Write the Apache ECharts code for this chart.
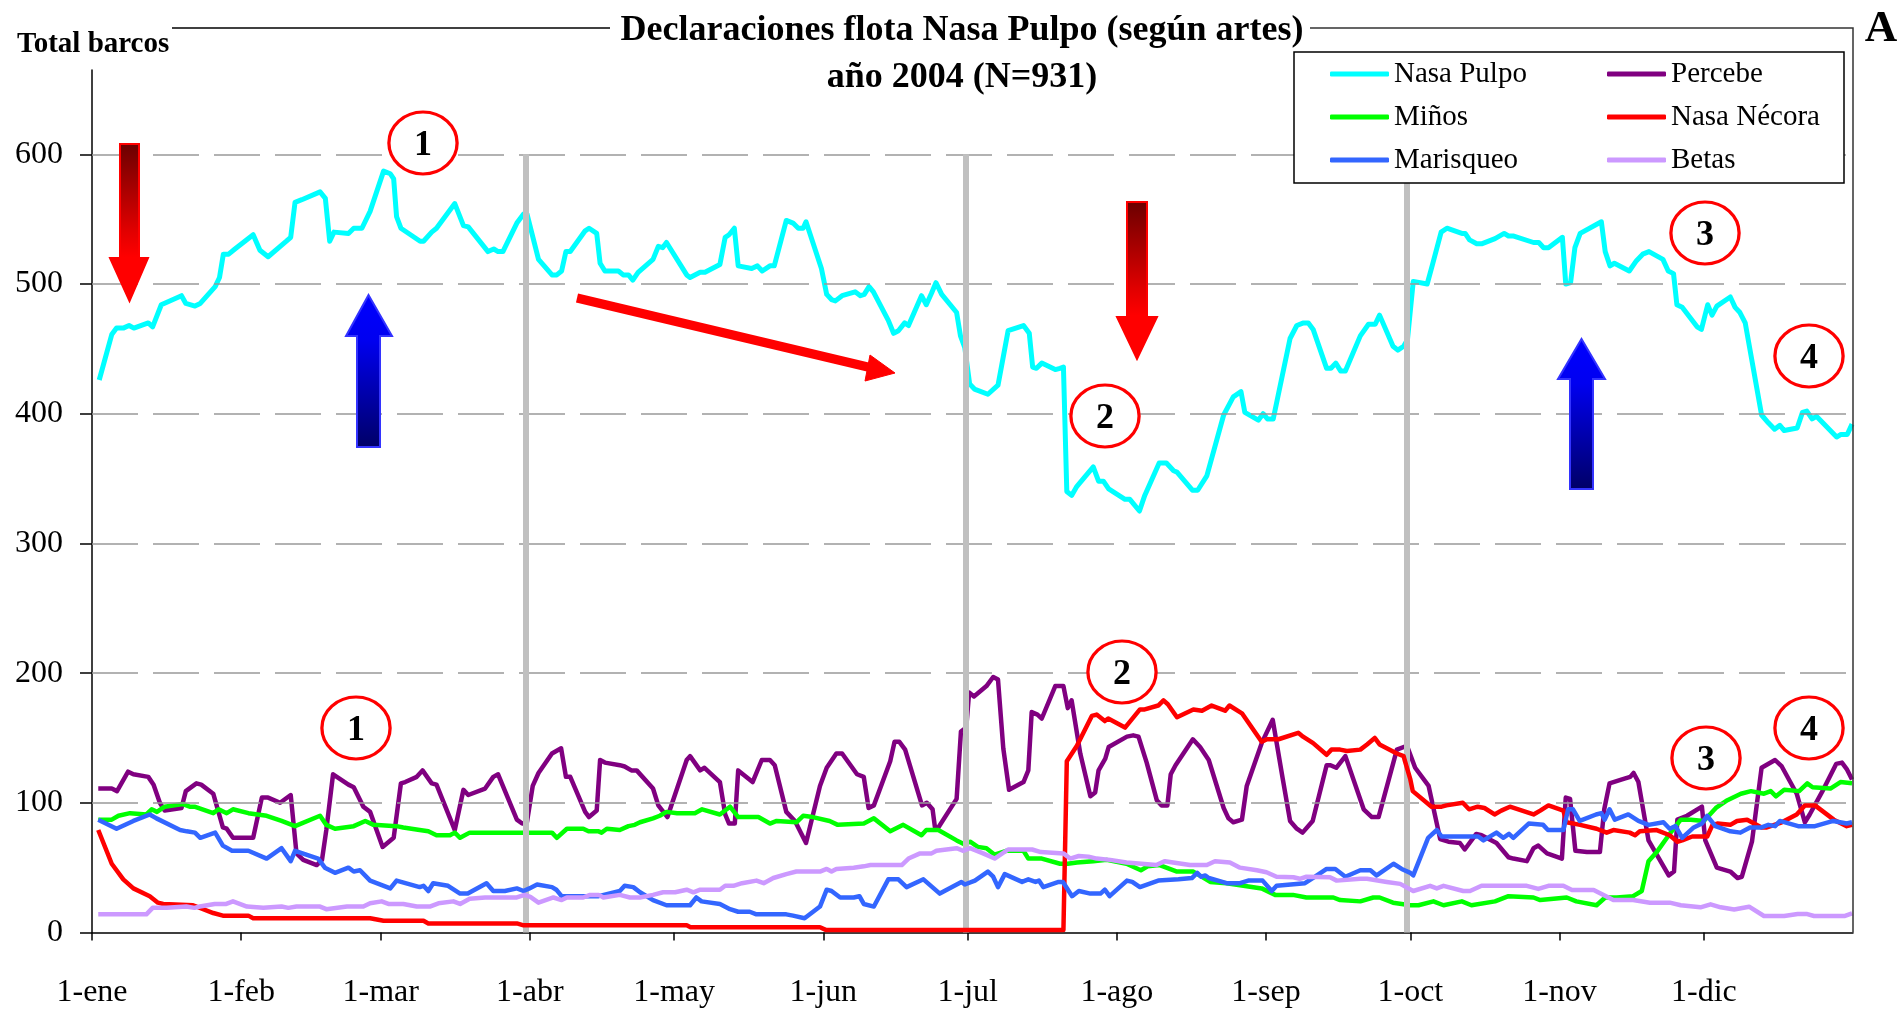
<!DOCTYPE html>
<html>
<head>
<meta charset="utf-8">
<title>Declaraciones flota Nasa Pulpo 2004</title>
<script src="https://cdn.jsdelivr.net/npm/echarts@6/dist/echarts.min.js"></script>
<style>
  html, body { margin: 0; padding: 0; background: #fff; }
  #chart { width: 1901px; height: 1010px; }
</style>
</head>
<body>
<div id="chart"></div>
<script>
"use strict";

// day of year (0 = 1-ene) and tick labels
const MONTH_DAYS = [0, 31, 60, 91, 121, 152, 182, 213, 244, 274, 305, 335];
const MONTH_LABELS = ["1-ene", "1-feb", "1-mar", "1-abr", "1-may", "1-jun",
  "1-jul", "1-ago", "1-sep", "1-oct", "1-nov", "1-dic"];
const Y_TICKS = [0, 100, 200, 300, 400, 500, 600];
const GREY_LINE_DAYS = [90.2, 181.7, 273.3];

// [day, boats]
const nasaPulpo = [
  [1.5, 426], [4.1, 461], [5.1, 466], [6.5, 466], [7.7, 468], [8.7, 466], [11.7, 470], [12.6, 467],
  [14.4, 484], [18.6, 491], [19.5, 485], [21.4, 483], [22.5, 485], [25.6, 498], [26.5, 505], [27.3, 523],
  [28.4, 523], [29.7, 527], [33.5, 538], [34.9, 526], [36.6, 521], [40.4, 533], [41.3, 536], [42.2, 563],
  [43.6, 565], [47.4, 571], [48.5, 566], [49.4, 533], [50.3, 540], [53.3, 539], [54.4, 543], [56.1, 543],
  [57.8, 556], [60.6, 587], [62.0, 585], [62.7, 581], [63.3, 552], [64.2, 543], [68.2, 533], [68.9, 533],
  [70.6, 540], [71.6, 543], [75.4, 562], [77.2, 545], [78.2, 544], [82.3, 525], [83.5, 527], [84.4, 525],
  [85.4, 525], [88.3, 547], [89.7, 554], [90.4, 554], [92.8, 519], [95.6, 507], [96.6, 507], [97.6, 510],
  [98.5, 525], [99.4, 525], [102.5, 541], [103.3, 543], [104.9, 539], [105.6, 516], [106.6, 510], [109.4, 510],
  [110.4, 507], [111.5, 507], [112.4, 503], [113.5, 509], [116.6, 519], [117.7, 529], [118.6, 528], [119.4, 532],
  [123.6, 507], [124.3, 505], [126.4, 509], [127.4, 509], [130.5, 515], [131.6, 536], [132.4, 538], [133.5, 543],
  [134.3, 514], [137.1, 512], [138.3, 514], [139.3, 510], [140.9, 514], [141.8, 514], [144.3, 549], [145.7, 547],
  [146.8, 543], [147.8, 543], [148.4, 548], [151.6, 512], [152.7, 492], [153.7, 488], [154.5, 487], [155.9, 491],
  [158.6, 494], [159.7, 491], [160.5, 492], [161.5, 498], [162.4, 494], [165.5, 472], [166.6, 462], [167.6, 464],
  [168.9, 470], [169.7, 468], [172.4, 491], [173.4, 484], [174.5, 493], [175.4, 501], [176.6, 492], [179.7, 478],
  [180.5, 460], [181.4, 451], [182.4, 423], [183.4, 419], [186.2, 415], [188.3, 422], [190.4, 464], [193.6, 468],
  [194.8, 462], [195.5, 436], [196.3, 435], [197.4, 439], [200.2, 434], [201.2, 435], [201.9, 436], [202.6, 340],
  [203.6, 337], [204.7, 344], [208.1, 359], [209.2, 348], [210.2, 348], [211.3, 342], [214.7, 334], [215.7, 334],
  [217.7, 325], [218.8, 337], [221.8, 362], [223.3, 362], [224.8, 356], [225.5, 355], [228.7, 341], [229.8, 341],
  [231.7, 352], [235.2, 399], [237.2, 413], [238.8, 417], [239.6, 401], [242.4, 395], [243.4, 400], [244.3, 396],
  [245.5, 396], [249.0, 458], [250.4, 468], [251.8, 470], [252.8, 470], [253.8, 465], [256.6, 435], [257.5, 435],
  [258.5, 439], [259.5, 433], [260.5, 433], [263.6, 460], [265.3, 469], [266.7, 469], [267.6, 476], [270.4, 452],
  [271.4, 449], [272.6, 452], [273.4, 457], [274.6, 502], [277.5, 500], [278.6, 515], [280.4, 540], [281.6, 543],
  [284.7, 539], [285.4, 539], [286.3, 534], [287.8, 531], [288.8, 531], [291.6, 535], [293.5, 539], [294.4, 537],
  [295.5, 537], [299.6, 532], [300.7, 532], [301.7, 528], [302.7, 528], [305.6, 536], [306.3, 500], [307.3, 501],
  [308.2, 528], [309.3, 539], [313.7, 548], [314.5, 525], [315.5, 514], [316.4, 516], [319.5, 510], [321.0, 518],
  [322.3, 523], [323.6, 525], [326.5, 519], [327.6, 510], [328.7, 508], [329.4, 484], [330.5, 482], [333.6, 467],
  [334.5, 465], [335.8, 484], [336.7, 476], [337.7, 483], [340.5, 490], [341.5, 482], [342.5, 478], [343.6, 470],
  [347.0, 399], [348.4, 393], [349.7, 388], [350.8, 391], [351.7, 387], [354.4, 389], [355.5, 401], [356.4, 402],
  [357.5, 396], [358.4, 398], [362.6, 382], [363.5, 384], [364.8, 384], [365.8, 392]
];

const percebe = [
  [1.3, 111], [4.1, 111], [5.2, 109], [7.5, 124], [8.6, 122], [11.7, 120], [12.8, 114], [14.1, 100],
  [15.1, 94], [18.6, 96], [19.5, 109], [21.7, 115], [22.7, 114], [25.2, 107], [27.2, 81], [28.0, 80],
  [29.3, 73], [33.5, 73], [35.3, 104], [36.6, 104], [39.1, 100], [41.3, 106], [42.5, 61], [43.9, 56],
  [46.7, 52], [47.8, 56], [48.7, 79], [50.1, 122], [53.3, 114], [54.4, 112], [56.4, 97], [57.8, 93],
  [60.4, 66], [62.7, 73], [64.2, 115], [65.1, 116], [67.5, 120], [68.7, 125], [70.6, 115], [71.6, 114],
  [75.4, 79], [77.2, 110], [78.2, 106], [81.7, 111], [83.4, 120], [84.4, 122], [88.3, 87], [89.4, 84],
  [90.4, 85], [91.6, 113], [92.8, 123], [95.6, 138], [97.5, 142], [98.5, 120], [99.4, 120], [102.5, 93],
  [103.3, 89], [104.9, 94], [105.6, 133], [106.6, 131], [109.7, 129], [110.7, 128], [112.1, 125], [113.2, 125],
  [116.6, 111], [117.7, 98], [119.6, 89], [123.6, 133], [124.3, 136], [126.4, 125], [127.3, 127], [130.5, 116],
  [131.6, 91], [132.4, 84], [133.6, 84], [134.3, 125], [137.3, 116], [139.2, 133], [140.9, 133], [141.9, 129],
  [144.3, 93], [146.1, 86], [148.4, 69], [151.3, 113], [152.7, 127], [154.7, 138], [155.9, 138], [159.0, 122],
  [160.4, 120], [161.4, 96], [162.5, 98], [165.9, 132], [166.8, 147], [167.8, 147], [169.0, 141], [172.5, 98],
  [173.5, 100], [174.7, 95], [175.2, 81], [175.9, 81], [179.7, 103], [180.6, 155], [181.7, 158], [182.3, 185],
  [183.3, 182], [185.9, 190], [187.3, 197], [188.3, 195], [189.4, 142], [190.6, 110], [193.6, 116], [194.6, 125],
  [195.3, 170], [196.5, 168], [197.4, 165], [200.2, 190], [201.9, 190], [202.8, 173], [203.6, 179], [205.4, 138],
  [207.5, 105], [208.5, 108], [209.2, 125], [210.6, 134], [211.3, 143], [215.1, 151], [216.4, 152], [217.5, 151],
  [219.2, 131], [221.3, 102], [222.3, 98], [223.5, 98], [224.2, 122], [225.2, 129], [228.8, 149], [230.3, 143],
  [232.1, 133], [235.2, 96], [236.2, 88], [237.2, 85], [239.0, 87], [240.0, 113], [243.1, 146], [245.4, 164],
  [247.5, 118], [249.0, 86], [250.4, 80], [251.6, 77], [253.7, 86], [256.6, 129], [257.4, 129], [258.6, 127],
  [260.5, 136], [264.3, 95], [266.0, 89], [267.4, 89], [271.2, 141], [273.3, 144], [275.0, 127], [277.8, 113],
  [280.2, 72], [281.9, 70], [284.3, 69], [285.3, 64], [287.7, 76], [288.8, 75], [291.9, 69], [294.4, 58],
  [295.4, 57], [298.2, 55], [299.6, 65], [300.6, 67], [302.4, 61], [305.5, 57], [306.3, 104], [307.2, 103],
  [308.3, 63], [310.7, 62], [313.4, 62], [314.3, 95], [315.4, 115], [318.0, 118], [319.7, 120], [320.4, 123],
  [321.4, 116], [323.5, 71], [327.7, 44], [328.8, 47], [329.5, 87], [331.5, 90], [334.6, 97], [335.3, 71],
  [337.7, 50], [340.5, 47], [342.0, 42], [342.9, 43], [345.0, 70], [347.0, 127], [349.8, 133], [351.2, 128],
  [354.3, 107], [356.0, 85], [357.0, 91], [359.8, 110], [362.5, 130], [363.7, 131], [364.7, 126], [365.8, 118]
];

const minos = [
  [1.3, 87], [4.1, 87], [5.5, 90], [7.9, 92], [11.3, 91], [12.4, 95], [13.5, 93], [15.1, 97],
  [18.9, 99], [20.3, 97], [21.3, 97], [25.2, 92], [26.3, 95], [28.0, 92], [29.3, 95], [32.5, 92],
  [36.3, 90], [39.4, 86], [42.2, 82], [47.4, 90], [48.7, 83], [50.5, 80], [54.4, 82], [56.8, 86],
  [58.5, 83], [63.3, 82], [64.7, 81], [68.1, 79], [69.9, 78], [71.6, 75], [74.4, 75], [75.4, 77],
  [76.5, 73], [78.5, 77], [91.0, 77], [95.6, 77], [96.6, 73], [98.7, 80], [102.1, 80], [103.2, 78],
  [105.3, 78], [105.9, 77], [107.0, 80], [109.7, 79], [111.5, 82], [112.8, 83], [113.9, 85], [116.6, 88],
  [118.0, 90], [119.4, 93], [121.6, 92], [125.3, 92], [126.8, 95], [130.5, 91], [132.6, 97], [134.3, 89],
  [138.5, 89], [140.9, 84], [142.3, 86], [146.4, 85], [147.8, 90], [149.8, 89], [153.3, 86], [155.0, 83],
  [160.4, 84], [162.5, 88], [165.9, 78], [168.6, 83], [172.4, 75], [173.4, 79], [175.9, 79], [179.7, 71],
  [181.3, 68], [182.5, 70], [184.1, 66], [185.9, 65], [187.6, 60], [190.0, 63], [193.6, 63], [194.6, 57],
  [197.4, 57], [201.2, 53], [202.8, 53], [204.7, 54], [208.1, 55], [210.9, 56], [215.0, 53], [218.0, 48],
  [219.4, 51], [221.9, 52], [225.5, 47], [228.9, 47], [232.4, 39], [235.8, 38], [239.3, 36], [243.1, 34],
  [245.9, 29], [249.6, 29], [252.4, 27], [258.0, 27], [259.4, 25], [263.6, 24], [266.3, 27], [267.6, 27],
  [270.4, 23], [274.0, 21], [275.7, 21], [278.8, 24], [280.9, 21], [284.7, 24], [286.7, 21], [291.6, 24],
  [294.4, 28], [299.6, 27], [301.0, 25], [306.5, 27], [308.5, 24], [312.7, 21], [314.5, 27], [316.9, 27],
  [320.3, 28], [322.1, 32], [323.5, 55], [325.2, 62], [327.7, 75], [330.2, 87], [332.3, 87], [335.0, 86],
  [337.5, 96], [339.9, 102], [342.7, 107], [344.8, 109], [347.5, 107], [348.9, 109], [350.0, 105], [351.7, 110],
  [354.8, 109], [356.5, 115], [357.6, 112], [361.3, 111], [363.4, 116], [365.8, 115]
];

const nasaNecora = [
  [1.3, 79], [4.1, 53], [6.5, 41], [8.6, 34], [12.0, 28], [13.7, 23], [14.8, 22], [21.0, 21],
  [25.2, 15], [27.2, 13], [32.5, 13], [33.5, 11], [57.8, 11], [60.6, 9], [68.9, 9], [69.9, 7],
  [88.3, 7], [89.7, 5.5], [123.6, 5.5], [124.4, 4], [151.3, 4], [152.5, 2], [201.9, 2], [202.6, 132],
  [204.7, 144], [207.8, 167], [208.8, 168], [210.5, 163], [211.2, 165], [214.7, 158], [217.8, 172], [218.8, 172],
  [221.6, 175], [222.7, 179], [223.6, 176], [225.5, 166], [228.9, 172], [230.7, 171], [232.7, 175], [235.5, 171],
  [236.4, 175], [239.0, 169], [243.1, 147], [244.2, 149], [246.6, 149], [250.7, 154], [251.7, 151], [253.8, 146],
  [256.6, 137], [257.6, 141], [259.4, 141], [260.8, 140], [263.6, 141], [265.0, 145], [266.6, 150], [267.6, 145],
  [271.2, 138], [272.6, 136], [272.9, 132], [274.0, 118], [274.5, 109], [278.4, 97], [280.5, 97], [281.5, 98],
  [284.9, 100], [286.2, 95], [288.0, 97], [289.4, 96], [291.5, 91], [292.9, 94], [294.7, 97], [299.6, 91],
  [301.0, 94], [302.7, 98], [305.8, 94], [306.5, 85], [309.3, 83], [312.7, 80], [314.8, 77], [316.2, 79],
  [319.6, 77], [320.7, 75], [321.7, 78], [325.2, 79], [327.9, 75], [329.5, 70], [330.5, 71], [332.6, 74],
  [335.7, 74], [336.8, 83], [337.8, 84], [340.5, 83], [341.9, 86], [344.0, 87], [347.0, 81], [348.1, 81],
  [351.2, 85], [354.3, 91], [356.0, 98], [358.1, 98], [362.0, 87], [364.7, 82], [365.8, 83]
];

const marisqueo = [
  [1.3, 87], [5.1, 80], [8.6, 86], [12.0, 91], [13.4, 88], [18.3, 79], [19.7, 78], [21.4, 77],
  [22.5, 73], [25.6, 77], [27.2, 67], [29.1, 63], [32.5, 63], [36.3, 57], [39.4, 65], [41.3, 55],
  [42.2, 63], [47.0, 57], [48.4, 50], [50.5, 46], [53.3, 50], [54.4, 47], [55.7, 48], [57.8, 40],
  [62.0, 34], [63.3, 40], [68.1, 35], [68.9, 36], [69.9, 32], [70.9, 38], [74.0, 36], [76.5, 30],
  [78.1, 30], [82.0, 38], [83.4, 32], [85.8, 32], [88.3, 34], [89.7, 32], [90.9, 34], [92.5, 37],
  [95.6, 35], [96.5, 33], [97.6, 28], [105.3, 28], [109.7, 32], [110.7, 36], [112.5, 35], [113.9, 31],
  [116.6, 25], [119.4, 21], [124.3, 21], [125.6, 27], [126.7, 24], [130.5, 22], [132.6, 18], [134.3, 16],
  [136.7, 16], [138.1, 14], [144.3, 14], [145.7, 13], [148.1, 11], [151.3, 20], [152.7, 33], [153.7, 32],
  [155.5, 27], [158.3, 27], [159.5, 28], [160.4, 22], [162.5, 20], [165.5, 41], [167.6, 41], [169.3, 35],
  [172.8, 41], [176.2, 30], [180.7, 39], [181.4, 37], [183.5, 40], [186.2, 47], [187.3, 43], [188.3, 35],
  [189.7, 45], [193.3, 39], [194.6, 41], [196.1, 39], [196.8, 40], [197.7, 35], [200.9, 39], [201.8, 39],
  [203.7, 28], [205.1, 32], [207.5, 30], [209.6, 30], [210.5, 33], [211.5, 28], [215.1, 40], [216.2, 39],
  [217.8, 35], [221.6, 40], [225.8, 41], [228.6, 42], [229.7, 46], [230.5, 43], [231.4, 44], [232.1, 42],
  [235.8, 38], [238.6, 38], [240.3, 40], [243.3, 40], [245.2, 32], [246.2, 36], [252.1, 38], [254.2, 43],
  [256.6, 49], [258.4, 49], [260.5, 43], [263.6, 48], [265.7, 48], [267.0, 44], [270.5, 53], [272.2, 49],
  [274.0, 46], [274.6, 44], [277.7, 73], [279.5, 79], [280.5, 74], [288.1, 74], [289.2, 71], [291.9, 77],
  [293.3, 73], [294.5, 76], [295.4, 73], [298.6, 84], [301.6, 83], [302.6, 79], [305.8, 79], [306.8, 95],
  [307.8, 95], [309.2, 86], [312.6, 91], [313.7, 92], [314.4, 87], [315.4, 95], [316.5, 87], [319.3, 91],
  [321.4, 86], [323.5, 83], [326.6, 85], [327.9, 80], [329.1, 82], [330.5, 73], [332.9, 81], [334.6, 84],
  [335.7, 90], [337.4, 82], [340.5, 78], [342.6, 77], [344.6, 81], [347.0, 81], [348.4, 83], [349.8, 82],
  [350.8, 86], [354.6, 82], [358.1, 82], [361.9, 86], [364.7, 84], [365.8, 85]
];

const betas = [
  [1.3, 14], [11.3, 14], [12.6, 19], [15.5, 19], [19.6, 20], [21.3, 19], [22.4, 20], [25.5, 22],
  [27.9, 22], [29.3, 24], [32.2, 20], [35.6, 19], [39.4, 20], [40.8, 19], [42.5, 20], [47.4, 20],
  [48.7, 18], [53.0, 20], [56.4, 20], [57.8, 22.5], [60.2, 24], [61.6, 22], [64.7, 22], [67.5, 20],
  [70.2, 20], [72.0, 22.5], [75.1, 24], [76.5, 22], [78.5, 26], [81.7, 27], [88.3, 27], [89.9, 29],
  [91.1, 27.5], [92.8, 23], [95.9, 27], [97.6, 25], [98.7, 27], [102.1, 27], [103.5, 29], [105.3, 29],
  [106.3, 27], [109.7, 29], [111.8, 27], [113.9, 27], [116.6, 29], [118.7, 31], [121.2, 31], [123.6, 33],
  [125.0, 31], [126.4, 33], [130.5, 33], [131.6, 36], [133.3, 36], [135.1, 38], [138.1, 40], [139.6, 38],
  [141.6, 42], [144.3, 45], [146.4, 47], [151.3, 47], [152.7, 49], [153.7, 47], [154.7, 49], [158.3, 50],
  [160.4, 51], [161.8, 52], [168.3, 52], [169.7, 57], [172.1, 61], [174.5, 61], [175.5, 63], [179.7, 65],
  [181.0, 63], [182.5, 65], [185.2, 61], [187.6, 57], [190.4, 64], [195.4, 64], [197.2, 62], [201.9, 61],
  [203.3, 57], [205.1, 59], [207.1, 58.5], [208.8, 57], [211.6, 56], [215.0, 54], [221.2, 52], [223.0, 55],
  [224.7, 54], [228.2, 52], [231.7, 52], [233.4, 55], [236.5, 54], [238.6, 50], [242.1, 48], [244.1, 46.5],
  [246.2, 43], [249.7, 42.6], [251.0, 41.4], [252.4, 43], [257.3, 42.6], [258.7, 40], [263.6, 41.4], [265.0, 41.4],
  [269.1, 39], [271.9, 37.5], [274.6, 32], [278.1, 36], [279.5, 34], [280.9, 36], [285.0, 32], [286.4, 32],
  [288.8, 36], [298.2, 36], [300.6, 33.6], [302.7, 36], [305.8, 36], [307.6, 32.7], [312.1, 32.7], [316.2, 25],
  [320.3, 25], [323.8, 23], [327.9, 23], [330.2, 21], [334.3, 19.4], [336.4, 21.7], [338.5, 19.4], [341.3, 17.8],
  [344.4, 19.9], [347.5, 12.7], [351.7, 12.7], [354.5, 14.2], [356.5, 14.2], [357.9, 12.7], [364.2, 12.7], [365.8, 14.8]
];

const FONT = "'Liberation Serif', 'Times New Roman', serif";

const chart = echarts.init(document.getElementById("chart"), null, { renderer: "canvas" });

const lineSeries = (name, data, color, width, z) => ({
  name: name,
  type: "line",
  data: data,
  symbol: "none",
  z: z,
  lineStyle: { color: color, width: width, join: "round" },
  itemStyle: { color: color }
});

// annotation shapes (arrows, circled numbers)
const arrowDown = (x1, x2, top, headY, hx1, hx2, tipY) => ({
  type: "polygon",
  z: 50,
  shape: { points: [[x1, top], [x2, top], [x2, headY], [hx2, headY], [(x1 + x2) / 2, tipY], [hx1, headY], [x1, headY]] },
  style: {
    fill: new echarts.graphic.LinearGradient(0, 0, 0, 1, [
      { offset: 0, color: "#6a0000" }, { offset: 0.55, color: "#e00000" }, { offset: 0.72, color: "#ff0000" }, { offset: 1, color: "#ff0000" }
    ]),
    stroke: "#ff0000", lineWidth: 2
  }
});
const arrowUp = (x1, x2, bottom, headY, hx1, hx2, tipY) => ({
  type: "polygon",
  z: 50,
  shape: { points: [[x1, bottom], [x2, bottom], [x2, headY], [hx2, headY], [(x1 + x2) / 2, tipY], [hx1, headY], [x1, headY]] },
  style: {
    fill: new echarts.graphic.LinearGradient(0, 0, 0, 1, [
      { offset: 0, color: "#0000ff" }, { offset: 0.3, color: "#0000f0" }, { offset: 1, color: "#000066" }
    ]),
    stroke: "#3333ff", lineWidth: 2
  }
});
const circled = (cx, cy, label) => ([
  {
    type: "circle", z: 50, x: cx, y: cy, scaleX: 1.1,
    shape: { cx: 0, cy: 0, r: 31 },
    style: { fill: "#fff", stroke: "#ff0000", lineWidth: 3, strokeNoScale: true }
  },
  {
    type: "text", z: 51, x: cx, y: cy + 3,
    style: {
      text: label, fill: "#000", font: "bold 36px " + FONT,
      align: "center", verticalAlign: "middle", textAlign: "center", textVerticalAlign: "middle"
    }
  }
]);

chart.setOption({
  animation: false,
  backgroundColor: "#fff",
  title: [
    {
      text: "Declaraciones flota Nasa Pulpo (según artes)",
      left: 957, top: 8, textAlign: "center",
      textStyle: { fontFamily: FONT, fontSize: 36, fontWeight: "bold", color: "#000" }
    },
    {
      text: "año 2004 (N=931)",
      left: 957, top: 55, textAlign: "center",
      textStyle: { fontFamily: FONT, fontSize: 36, fontWeight: "bold", color: "#000" }
    }
  ],
  legend: [
    {
      data: ["Nasa Pulpo", "Miños", "Marisqueo"],
      orient: "vertical", left: 1325, top: 54,
      icon: "roundRect", itemWidth: 59, itemHeight: 5, itemGap: 13,
      selectedMode: false, z: 60,
      textStyle: { fontFamily: FONT, fontSize: 29, lineHeight: 30, color: "#000" }
    },
    {
      data: ["Percebe", "Nasa Nécora", "Betas"],
      orient: "vertical", left: 1602, top: 54,
      icon: "roundRect", itemWidth: 59, itemHeight: 5, itemGap: 13,
      selectedMode: false, z: 60,
      textStyle: { fontFamily: FONT, fontSize: 29, lineHeight: 30, color: "#000" }
    }
  ],
  grid: { left: 92, right: 48, top: 70, bottom: 77.5, containLabel: false },
  xAxis: {
    type: "value",
    min: 0,
    max: 366,
    axisLine: { show: true, lineStyle: { color: "#000", width: 1.5 } },
    axisTick: { show: true, length: 8, customValues: MONTH_DAYS, lineStyle: { color: "#000", width: 1.5 } },
    axisLabel: {
      customValues: MONTH_DAYS,
      formatter: (v) => MONTH_LABELS[MONTH_DAYS.indexOf(v)] || "",
      margin: 44,
      fontFamily: FONT, fontSize: 32, color: "#000"
    },
    splitLine: { show: false }
  },
  yAxis: {
    type: "value",
    min: 0,
    max: 665,
    axisLine: { show: true, lineStyle: { color: "#000", width: 1.5 } },
    axisTick: { show: true, length: 12, customValues: Y_TICKS, lineStyle: { color: "#000", width: 1.5 } },
    axisLabel: {
      customValues: Y_TICKS,
      margin: 29,
      fontFamily: FONT, fontSize: 32, color: "#000"
    },
    splitLine: { show: false }
  },
  series: [
    {
      name: "grid",
      type: "line",
      data: [],
      z: 1,
      markLine: {
        silent: true, symbol: ["none", "none"], label: { show: false },
        lineStyle: { color: "#999", width: 1.5, type: [46, 15] },
        data: Y_TICKS.filter((v) => v > 0).map((v) => ({ yAxis: v }))
      }
    },
    {
      name: "trimestres",
      type: "line",
      data: [],
      z: 1,
      markLine: {
        silent: true, symbol: ["none", "none"], label: { show: false },
        lineStyle: { color: "#c0c0c0", width: 6, type: "solid" },
        data: GREY_LINE_DAYS.map((d) => [{ coord: [d, 0] }, { coord: [d, 600] }])
      }
    },
    lineSeries("Nasa Pulpo", nasaPulpo, "#00ffff", 5, 2),
    lineSeries("Percebe", percebe, "#800080", 4.5, 3),
    lineSeries("Miños", minos, "#00ff00", 4.5, 4),
    lineSeries("Nasa Nécora", nasaNecora, "#ff0000", 4.5, 5),
    lineSeries("Marisqueo", marisqueo, "#3366ff", 4.5, 6),
    lineSeries("Betas", betas, "#cc99ff", 4.5, 7)
  ],
  graphic: [
    {
      type: "text", left: 17, top: 30, z: 50,
      style: { text: "Total barcos", fill: "#000", font: "bold 29px " + FONT }
    },
    {
      type: "text", x: 1881, y: 29, z: 50,
      style: {
        text: "A", fill: "#000", font: "bold 45px " + FONT,
        align: "center", verticalAlign: "middle", textAlign: "center", textVerticalAlign: "middle"
      }
    },
    { type: "line", z: 40, shape: { x1: 172, y1: 28, x2: 610, y2: 28 }, style: { stroke: "#000", lineWidth: 1.5 } },
    { type: "polyline", z: 40, shape: { points: [[1310, 28], [1853, 28], [1853, 932.5]] }, style: { stroke: "#333", lineWidth: 1.5, fill: null } },
    {
      type: "rect", z: 55,
      shape: { x: 1294, y: 52, width: 550, height: 131 },
      style: { fill: "#fff", stroke: "#000", lineWidth: 1.5 }
    },
    arrowDown(120, 139, 144, 258, 110, 148, 301),
    arrowUp(357, 380, 447, 336, 346, 392, 295),
    arrowDown(1127, 1147, 202, 317, 1117, 1157, 359),
    arrowUp(1570, 1593, 489, 379, 1558, 1605, 339),
    { type: "line", z: 50, shape: { x1: 577, y1: 298, x2: 872, y2: 368 }, style: { stroke: "#ff0000", lineWidth: 9 } },
    { type: "polygon", z: 50, shape: { points: [[870, 355], [895, 373], [865, 381]] }, style: { fill: "#ff0000", stroke: "#ff0000", lineWidth: 1 } },
    ...circled(423, 143, "1"),
    ...circled(1105, 416, "2"),
    ...circled(1705, 233, "3"),
    ...circled(1809, 356, "4"),
    ...circled(356, 728, "1"),
    ...circled(1122, 672, "2"),
    ...circled(1706, 758, "3"),
    ...circled(1809, 728, "4")
  ]
});
</script>
</body>
</html>
